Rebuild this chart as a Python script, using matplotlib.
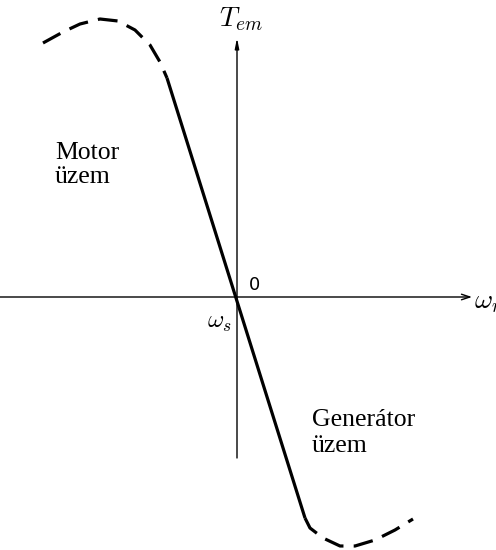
import numpy as np
import matplotlib.pyplot as plt

plt.rcParams["mathtext.fontset"] = "cm"

# torque-speed characteristic around synchronous speed (origin = omega_s)
upper_w = [-1.94, -1.74, -1.57, -1.37, -1.19, -1.02, -0.87, -0.77, -0.70]
upper_t = [2.54, 2.65, 2.73, 2.78, 2.76, 2.67, 2.52, 2.35, 2.19]

linear_w = [-0.70, 0.68]
linear_t = [2.19, -2.21]

lower_w = [0.68, 0.73, 0.86, 1.03, 1.18, 1.38, 1.58, 1.76]
lower_t = [-2.21, -2.31, -2.41, -2.49, -2.49, -2.43, -2.33, -2.22]

fig = plt.figure(figsize=(4.96, 5.5), dpi=100)
ax = fig.add_axes([0, 0, 1, 1])
ax.set_xlim(-2.37, 2.59)
ax.set_ylim(-2.53, 2.97)
ax.axis("off")

dash = (0, (6.2, 3.2))
ax.plot(upper_w, upper_t, color="black", lw=2.3, ls=dash, solid_capstyle="butt")
ax.plot(linear_w, linear_t, color="black", lw=2.3, solid_capstyle="butt")
ax.plot(lower_w, lower_t, color="black", lw=2.3, ls=dash, solid_capstyle="butt")

# axes with arrows
ax.annotate("", xy=(2.35, 0), xytext=(-2.37, 0),
            arrowprops=dict(arrowstyle="->,head_length=0.6,head_width=0.2",
                            color="black", lw=1.0, shrinkA=0, shrinkB=0))
ax.annotate("", xy=(0, 2.59), xytext=(0, -1.61),
            arrowprops=dict(arrowstyle="-|>,head_length=0.6,head_width=0.12",
                            color="black", lw=1.0, shrinkA=0, shrinkB=0))

ax.text(-0.18, 2.64, r"$T_{em}$", fontsize=20, ha="left", va="bottom")
ax.text(2.37, -0.04, r"$\omega_r$", fontsize=20, ha="left", va="center")
ax.text(-0.05, -0.25, r"$\omega_s$", fontsize=18, ha="right", va="center")
ax.text(0.12, 0.12, "0", fontsize=13, ha="left", va="center")

ax.text(-1.82, 1.32, "Motor\nüzem", fontsize=18.5, family="Liberation Serif",
        ha="left", va="center", linespacing=1.15)
ax.text(0.75, -1.36, "Generátor\nüzem", fontsize=18.5, family="Liberation Serif",
        ha="left", va="center", linespacing=1.2)

fig.savefig("out.png", dpi=100)
